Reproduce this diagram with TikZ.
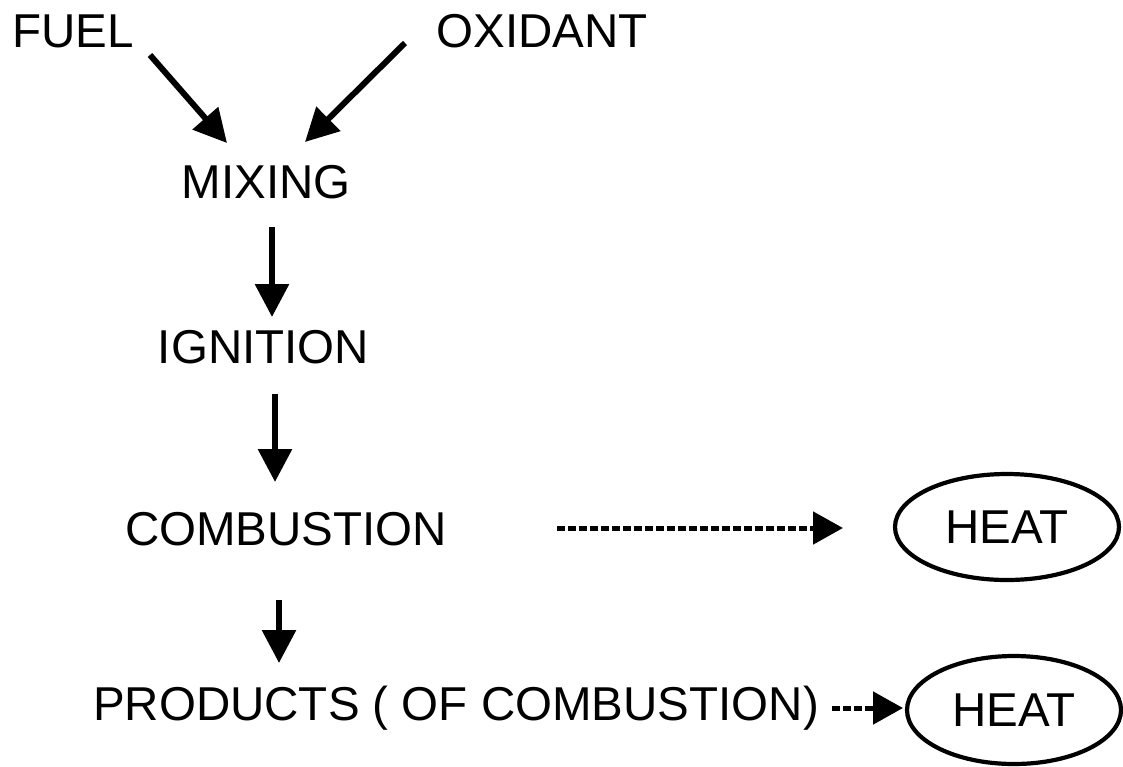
\documentclass[tikz,border=0pt]{standalone}
\usepackage{fontspec}
\setmainfont{Liberation Sans}
\usetikzlibrary{arrows.meta,shapes.geometric}
\begin{document}
\begin{tikzpicture}[x=1pt,y=-1pt,
  lbl/.style={anchor=base,inner sep=0pt,outer sep=0pt,font=\fontsize{47.5}{57}\selectfont},
  heatnode/.style={ellipse,draw,line width=4.2pt,inner sep=0pt,outer sep=0pt,font=\fontsize{47.5}{57}\selectfont},
  arr/.style={line width=6pt,-{Triangle[length=33pt,width=33pt]}},
  darr/.style={line width=5pt,dash pattern=on 8pt off 3pt,-{Triangle[length=30pt,width=32pt]}}]
\useasboundingbox[fill=white] (0,0) rectangle (1123,766);
\node[lbl] (fuel) at (73,47) {FUEL};
\node[lbl] (oxidant) at (542,47) {OXIDANT};
\node[lbl] (mixing) at (266,198) {MIXING};
\node[lbl] (ignition) at (263.5,363) {IGNITION};
\node[lbl] (combustion) at (286,545) {COMBUSTION};
\node[lbl] (products) at (456,720) {PRODUCTS ( OF COMBUSTION)};
\node[heatnode,minimum width=224pt,minimum height=106pt] (heat1) at (1007,527) {HEAT};
\node[heatnode,minimum width=214pt,minimum height=108pt] (heat2) at (1014,710) {HEAT};
% arrow end points
\coordinate (fuelout) at (150,55);
\coordinate (mixinL) at (227,143);
\coordinate (oxout) at (405,43);
\coordinate (mixinR) at (305,142);
\coordinate (mixout) at (272,227);
\coordinate (ignin) at (272,317);
\coordinate (ignout) at (275,394);
\coordinate (combin) at (275,482);
\coordinate (combout) at (279,600);
\coordinate (prodin) at (279,663);
\coordinate (combR) at (557,528);
\coordinate (heat1in) at (843,528);
\coordinate (prodR) at (832,708);
\coordinate (heat2in) at (903,708);
\draw[arr] (fuelout) -- (mixinL);
\draw[arr] (oxout) -- (mixinR);
\draw[arr] (mixout) -- (ignin);
\draw[arr] (ignout) -- (combin);
\draw[arr] (combout) -- (prodin);
\draw[darr] (combR) -- (heat1in);
\draw[darr] (prodR) -- (heat2in);
\end{tikzpicture}
\end{document}
